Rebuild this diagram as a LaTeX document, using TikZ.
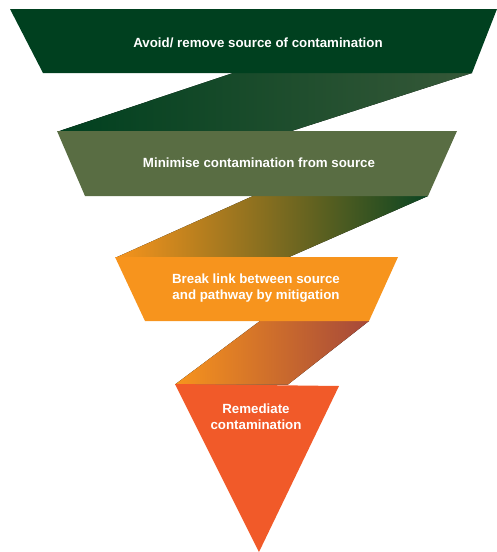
\documentclass[tikz,border=0pt]{standalone}
\usepackage{fontspec}
\setmainfont{Liberation Sans}
\definecolor{darkgreen}{HTML}{00401F}
\definecolor{midgreen}{HTML}{596D43}
\definecolor{lightgreen}{HTML}{365838}
\definecolor{deepgreen}{HTML}{0B4522}
\definecolor{amber}{HTML}{F7941D}
\definecolor{rust}{HTML}{A5483A}
\definecolor{flame}{HTML}{F15A29}
\tikzset{label/.style={text=white,font=\fontsize{13.3}{16}\selectfont\bfseries,align=center}}
\begin{document}
\begin{tikzpicture}[x=1pt,y=-1pt]
    \useasboundingbox (0,0) rectangle (497,552);
    \fill[left color=darkgreen,right color=lightgreen] (233,73) -- (472,73) -- (290,131.5) -- (58,131.5) -- cycle;
    \fill[left color=amber,right color=deepgreen] (253,196) -- (428,196) -- (288,257.5) -- (116,257.5) -- cycle;
    \fill[left color=amber,right color=rust] (260,321) -- (369,321) -- (288,384.5) -- (175,384.5) -- cycle;
    \fill[darkgreen] (10,9) -- (497,9) -- (472,73) -- (43,73) -- cycle;
    \fill[midgreen] (57,131) -- (457,131) -- (428,196) -- (85,196) -- cycle;
    \fill[amber] (115,257) -- (398,257) -- (369,321) -- (145,321) -- cycle;
    \fill[flame] (175,384) -- (339,386) -- (259,552) -- cycle;
    \node[label] (avoid) at (258,43) {Avoid/ remove source of contamination};
    \node[label] (minimise) at (259,163) {Minimise contamination from source};
    \node[label] (break) at (256,288) {Break link between source\\and pathway by mitigation};
    \node[label] (remediate) at (256,417) {Remediate\\contamination};
\end{tikzpicture}
\end{document}
